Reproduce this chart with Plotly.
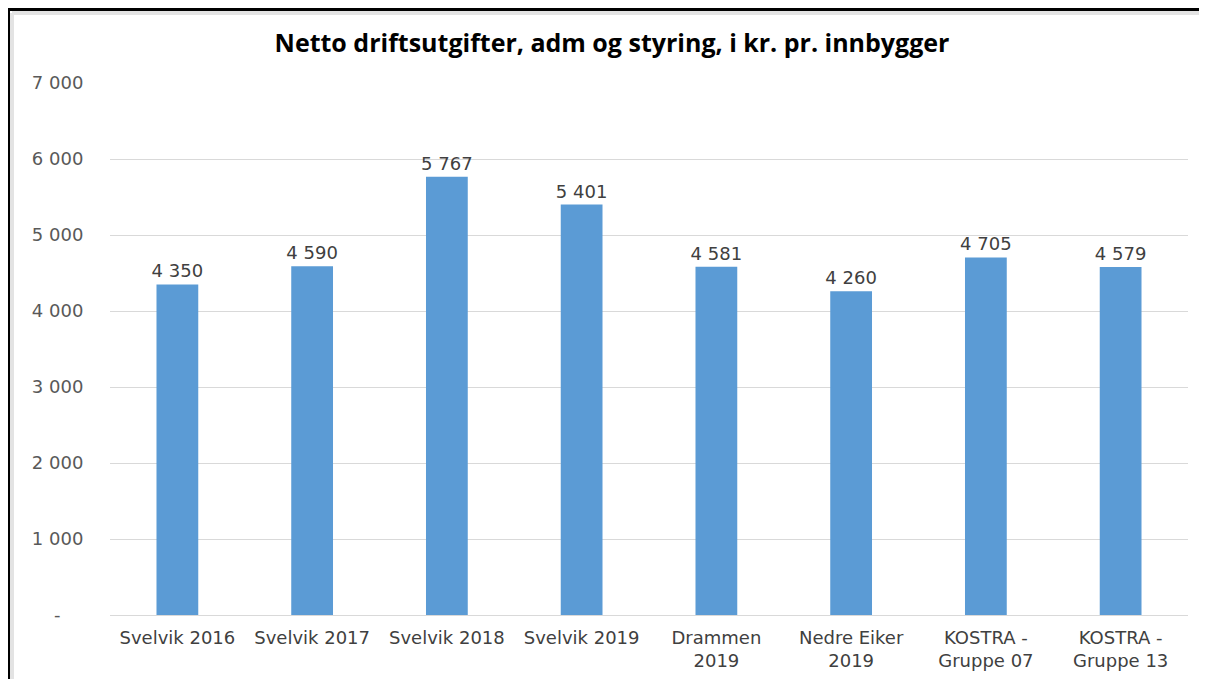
import plotly.graph_objects as go

categories = ["Svelvik 2016", "Svelvik 2017", "Svelvik 2018", "Svelvik 2019",
              "Drammen<br>2019", "Nedre Eiker<br>2019", "KOSTRA -<br>Gruppe 07", "KOSTRA -<br>Gruppe 13"]
values = [4350, 4590, 5767, 5401, 4581, 4260, 4705, 4579]
value_labels = ["4 350", "4 590", "5 767", "5 401", "4 581", "4 260", "4 705", "4 579"]
tick_vals = [0, 1000, 2000, 3000, 4000, 5000, 6000, 7000]
tick_text = ["-    ", "1 000", "2 000", "3 000", "4 000", "5 000", "6 000", "7 000"]
title_text = "Netto driftsutgifter, adm og styring, i kr. pr. innbygger"

# page body has an 8px offset; coordinates below are figure coords (screen - 8)
OFF = 8
W, H = 1207 - OFF, 679 - OFF
L, R, T, B = 110 - OFF, 19, 83 - OFF, 64
pw, ph = W - L - R, H - T - B

def px(x):
    return (x - OFF - L) / pw

def py(y):
    return (H - B - (y - OFF)) / ph

fig = go.Figure(go.Bar(
    x=categories, y=values, text=value_labels, textposition="outside",
    constraintext="none",
    textfont=dict(family="DejaVu Sans", size=18, color="#404040"),
    marker=dict(color="#5b9bd5", line=dict(width=0)),
    cliponaxis=False,
))

shapes = [
    dict(type="line", xref="paper", yref="paper", x0=px(12), x1=px(1215), y0=py(13), y1=py(13),
         line=dict(color="#e3e3e3", width=4)),
    dict(type="line", xref="paper", yref="paper", x0=px(12), x1=px(12), y0=py(13), y1=py(690),
         line=dict(color="#e3e3e3", width=4)),
    dict(type="line", xref="paper", yref="paper", x0=px(7.5), x1=px(1215), y0=py(9.5), y1=py(9.5),
         line=dict(color="#000000", width=3)),
    dict(type="line", xref="paper", yref="paper", x0=px(8.5), x1=px(8.5), y0=py(8), y1=py(690),
         line=dict(color="#000000", width=3)),
]

fig.update_layout(
    width=W, height=H,
    margin=dict(l=L, r=R, t=T, b=B, autoexpand=False),
    paper_bgcolor="white", plot_bgcolor="white",
    title=dict(text="<b>" + title_text + "</b>", x=(612 - OFF) / W, xanchor="center",
               y=1 - (43 - OFF) / H, yanchor="middle", xref="container", yref="container",
               font=dict(family="Open Sans", size=25, color="#000000")),
    bargap=0.69,
    showlegend=False,
    shapes=shapes,
    xaxis=dict(showgrid=False, showline=True, linecolor="#d9d9d9", linewidth=1,
               tickfont=dict(family="DejaVu Sans", size=18, color="#404040"),
               ticks="outside", ticklen=6, tickcolor="rgba(0,0,0,0)", fixedrange=True,
               automargin=False),
    yaxis=dict(range=[0, 7000], tickvals=tick_vals, ticktext=tick_text,
               showgrid=True, gridcolor="#d9d9d9", gridwidth=1, zeroline=False,
               tickfont=dict(family="DejaVu Sans", size=18, color="#595959"),
               ticks="outside", ticklen=22, tickcolor="rgba(0,0,0,0)", showline=False,
               automargin=False),
)

fig.write_html("out.html")
